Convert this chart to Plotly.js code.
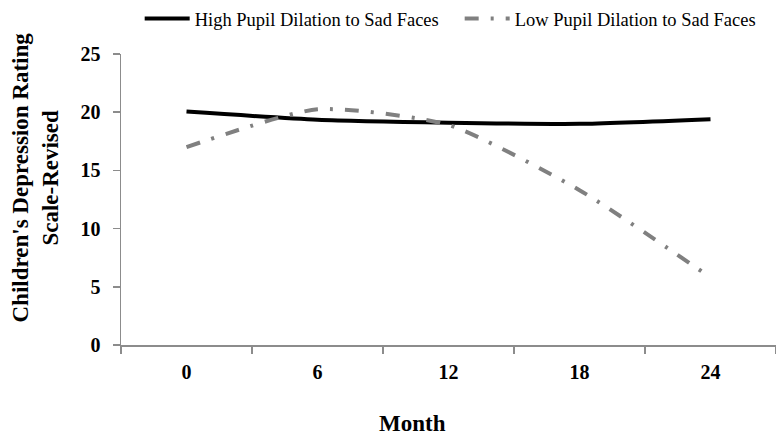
<!DOCTYPE html>
<html>
<head>
<meta charset="utf-8">
<script src="https://cdn.plot.ly/plotly-3.0.1.min.js"></script>
<style>
  html, body { margin: 0; padding: 0; background: #fff; }
  #chart { width: 776px; height: 439px; }
</style>
</head>
<body>
<div id="chart"></div>
<script>
// months of follow-up (category axis)
const months = ["0", "6", "12", "18", "24"];

// CDRS-R scores
const high_dilation = [20.05, 19.35, 19.1, 19.0, 19.4];
const low_dilation = [17.0, 20.25, 18.9, 13.3, 5.8];

const series_names = ["High Pupil Dilation to Sad Faces", "Low Pupil Dilation to Sad Faces"];

const serif = "Liberation Serif";

let chart_data = [
    {
        type: "scatter",
        mode: "lines",
        x: months,
        y: high_dilation,
        name: series_names[0],
        line: {color: "#000000", width: 4, shape: "spline", smoothing: 0.6}
    },
    {
        type: "scatter",
        mode: "lines",
        x: months,
        y: low_dilation,
        name: series_names[1],
        line: {color: "#808080", width: 4, shape: "spline", smoothing: 0.6, dash: "14px,12px,3px,12px"}
    }
];

const chart_layout = {
    width: 776,
    height: 439,
    margin: {l: 121, r: 0, t: 54, b: 94},
    paper_bgcolor: "#ffffff",
    plot_bgcolor: "#ffffff",
    font: {family: serif, color: "#000000"},
    showlegend: true,
    legend: {
        orientation: "h",
        xref: "container",
        yref: "container",
        x: 0.18,
        y: 1,
        xanchor: "left",
        yanchor: "top",
        font: {family: serif, size: 18.5, color: "#000000"},
        itemwidth: 45,
        entrywidth: 260,
        bgcolor: "rgba(0,0,0,0)"
    },
    xaxis: {
        type: "category",
        range: [-0.5, 4.5],
        showgrid: false,
        zeroline: false,
        showline: true,
        linecolor: "#8c8c8c",
        linewidth: 1.5,
        ticks: "outside",
        tickson: "boundaries",
        ticklen: 7,
        tickcolor: "#8c8c8c",
        tickwidth: 1.5,
        ticklabelstandoff: 8,
        tickfont: {family: serif, size: 20, weight: 700, color: "#000000"},
        fixedrange: true
    },
    yaxis: {
        range: [0, 25],
        dtick: 5,
        showgrid: false,
        zeroline: false,
        showline: true,
        linecolor: "#8c8c8c",
        linewidth: 1.5,
        ticks: "outside",
        ticklen: 7,
        tickcolor: "#8c8c8c",
        tickwidth: 1.5,
        ticklabelstandoff: 8,
        tickfont: {family: serif, size: 20, weight: 700, color: "#000000"},
        fixedrange: true
    },
    annotations: [
        {
            text: "Month",
            xref: "paper", yref: "paper",
            x: (412 - 121) / 655, y: -0.27,
            xanchor: "center", yanchor: "middle",
            showarrow: false,
            font: {family: serif, size: 23, weight: 700, color: "#000000"}
        },
        {
            text: "Children's Depression Rating<br>Scale-Revised",
            xref: "paper", yref: "paper",
            x: -0.13, y: 0.575,
            xanchor: "center", yanchor: "middle",
            textangle: -90,
            showarrow: false,
            font: {family: serif, size: 23, weight: 700, color: "#000000"}
        }
    ]
};

Plotly.newPlot("chart", chart_data, chart_layout, {displayModeBar: false, staticPlot: true});
</script>
</body>
</html>
